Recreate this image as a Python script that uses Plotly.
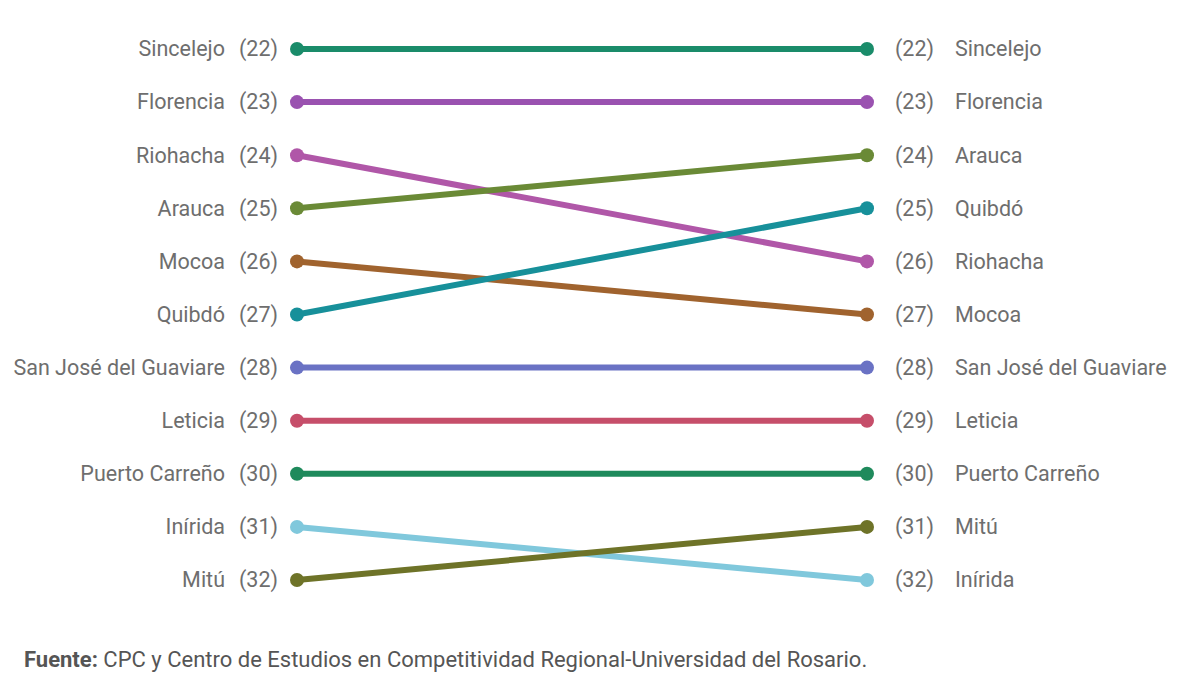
import plotly.graph_objects as go

# Ranking data (left = previous ranking, right = current ranking)
cities = ["Valledupar", "San Andrés", "Sincelejo", "Florencia", "Riohacha", "Arauca",
          "Mocoa", "Quibdó", "San José del Guaviare", "Leticia", "Puerto Carreño",
          "Inírida", "Mitú"]
rank_left = [21, 20, 22, 23, 24, 25, 26, 27, 28, 29, 30, 31, 32]
rank_right = [20, 21, 22, 23, 26, 24, 27, 25, 28, 29, 30, 32, 31]
colors = ["#d2473f", "#e0607e", "#1a8c6a", "#9a52b0", "#b057a8", "#6a8a36",
          "#a0632e", "#17909a", "#6a72c4", "#c64e6a", "#1f8a5c", "#80c8dc", "#6e7328"]

source_bold = "Fuente:"
source_text = " CPC y Centro de Estudios en Competitividad Regional-Universidad del Rosario."

text_color = "#6e6e6e"
font_family = "Roboto"
label_size = 21.5

px_per_unit = 570.0
px_per_rank = 53.1
y22_px = 49.0
text_drop = 2.0 / px_per_rank  # small downward nudge so text centres on the lines

fig = go.Figure()
for c, l, r, col in zip(cities, rank_left, rank_right, colors):
    fig.add_trace(go.Scatter(
        x=[0, 1], y=[l, r], mode="lines+markers",
        line=dict(color=col, width=6),
        marker=dict(color=col, size=14),
        showlegend=False, hoverinfo="skip", cliponaxis=False))

def px(d):
    return d / px_per_unit

ty_left = [v + text_drop for v in rank_left]
ty_right = [v + text_drop for v in rank_right]

lab_font = dict(family=font_family, size=label_size, color=text_color)
fig.add_trace(go.Scatter(x=[px(-72)] * len(cities), y=ty_left, mode="text",
                         text=cities, textposition="middle left", textfont=lab_font,
                         showlegend=False, hoverinfo="skip", cliponaxis=False))
fig.add_trace(go.Scatter(x=[px(-19)] * len(cities), y=ty_left, mode="text",
                         text=[f"({v})" for v in rank_left], textposition="middle left",
                         textfont=lab_font, showlegend=False, hoverinfo="skip",
                         cliponaxis=False))
fig.add_trace(go.Scatter(x=[1 + px(28)] * len(cities), y=ty_right, mode="text",
                         text=[f"({v})" for v in rank_right], textposition="middle right",
                         textfont=lab_font, showlegend=False, hoverinfo="skip",
                         cliponaxis=False))
fig.add_trace(go.Scatter(x=[1 + px(88)] * len(cities), y=ty_right, mode="text",
                         text=cities, textposition="middle right", textfont=lab_font,
                         showlegend=False, hoverinfo="skip", cliponaxis=False))

fig.add_annotation(
    x=22 / 1200, y=1 - 659 / 675, xref="paper", yref="paper", showarrow=False,
    text=f"<b>{source_bold}</b>{source_text}", xanchor="left", yanchor="middle",
    font=dict(family=font_family, size=22, color="#555555"))

fig.update_layout(
    width=1200, height=675,
    margin=dict(l=0, r=0, t=0, b=0),
    plot_bgcolor="white", paper_bgcolor="white",
    xaxis=dict(range=[-297 / px_per_unit, (1200 - 297) / px_per_unit],
               visible=False, showgrid=False, zeroline=False),
    yaxis=dict(range=[22 + (675 - y22_px) / px_per_rank, 22 - y22_px / px_per_rank],
               visible=False, showgrid=False, zeroline=False),
)

fig.write_html("out.html")
